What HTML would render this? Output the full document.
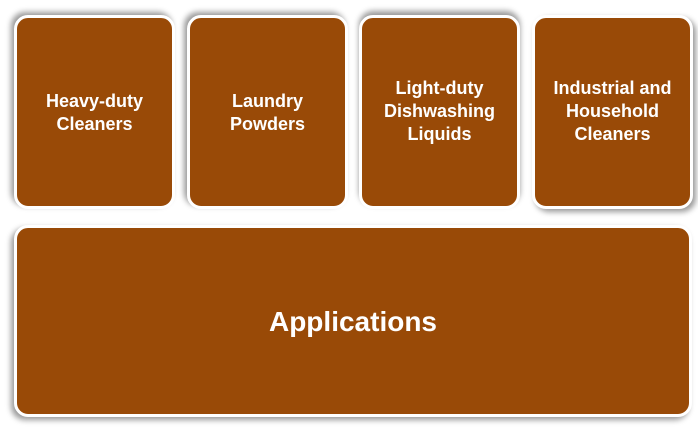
<!DOCTYPE html>
<html><head><meta charset="utf-8"><style>
html,body{margin:0;padding:0;background:#fff;}
body{width:698px;height:432px;position:relative;overflow:hidden;font-family:"Liberation Sans",Arial,sans-serif;}
.b{position:absolute;background:#994A07;border:3px solid #fff;border-radius:14px;display:flex;align-items:center;justify-content:center;text-align:center;color:#fff;font-weight:bold;font-size:18px;line-height:23px;box-sizing:border-box;}
</style></head><body>
<div class="b" style="left:14px;top:15px;width:161px;height:194px;box-shadow:-3px -3px 6px rgba(0,0,0,0.4);padding-top:2px;">Heavy-duty<br>Cleaners</div>
<div class="b" style="left:187px;top:15px;width:161px;height:194px;box-shadow:-3px -3px 6px rgba(0,0,0,0.4);padding-top:2px;">Laundry<br>Powders</div>
<div class="b" style="left:359px;top:15px;width:161px;height:194px;box-shadow:0px -4px 6px rgba(0,0,0,0.4);padding-bottom:2px;">Light-duty<br>Dishwashing<br>Liquids</div>
<div class="b" style="left:532px;top:15px;width:161px;height:194px;box-shadow:3px 3px 6px rgba(0,0,0,0.4);padding-bottom:2px;">Industrial and<br>Household<br>Cleaners</div>
<div class="b" style="left:14px;top:225px;width:678px;height:192px;box-shadow:-3px 3px 6px rgba(0,0,0,0.4);font-size:28px;line-height:32px;padding-top:2px;">Applications</div>
</body></html>
